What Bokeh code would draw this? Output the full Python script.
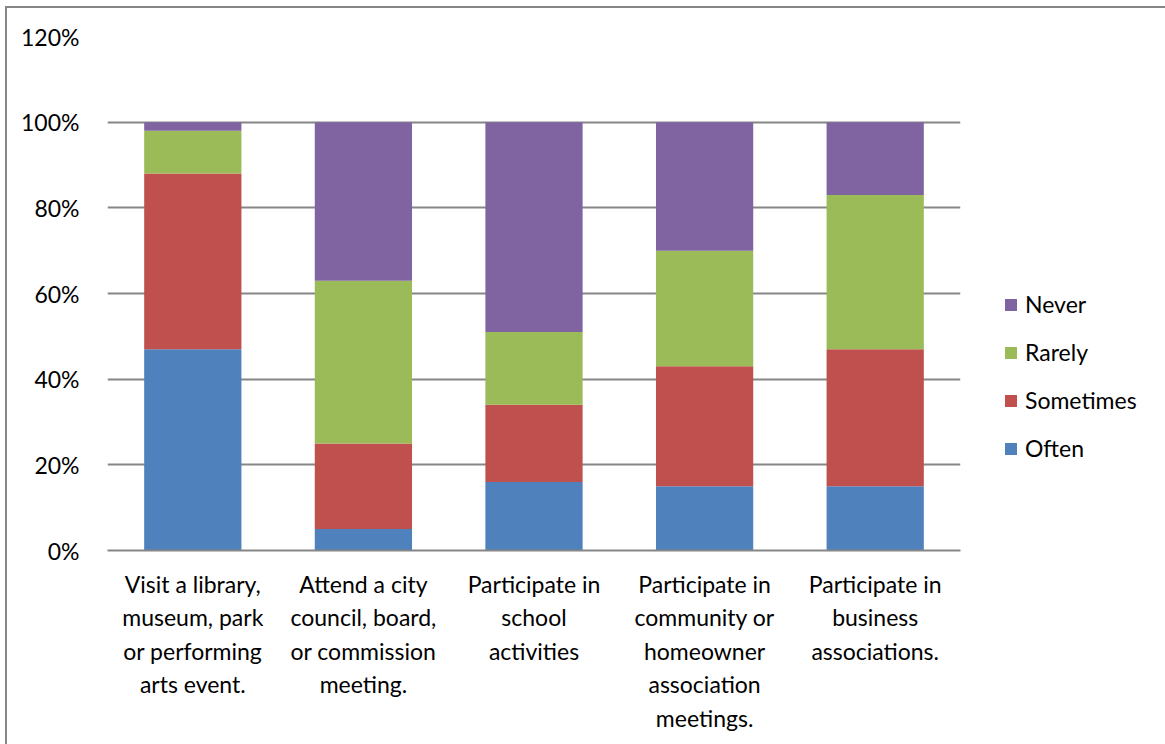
from bokeh.plotting import figure
from bokeh.models import (FactorRange, Range1d, FixedTicker, PrintfTickFormatter,
                          Legend, LegendItem)
from bokeh.embed import file_html
from bokeh.resources import INLINE

# Survey: how often respondents take part in each activity (percent of answers)
activities = [
    "Visit a library,\nmuseum, park\nor performing\narts event.",
    "Attend a city\ncouncil, board,\nor commission\nmeeting.",
    "Participate in\nschool\nactivities",
    "Participate in\ncommunity or\nhomeowner\nassociation\nmeetings.",
    "Participate in\nbusiness\nassociations.",
]
often = [47, 5, 16, 15, 15]
sometimes = [41, 20, 18, 28, 32]
rarely = [10, 38, 17, 27, 36]
never = [2, 37, 49, 30, 17]

y_ticks = [0, 20, 40, 60, 80, 100, 120]

series = ["Often", "Sometimes", "Rarely", "Never"]
colors = ["#4F81BD", "#C0504D", "#9BBB59", "#8064A2"]

FONT = "Lato"
FONT_SIZE = "23px"
GRID = "#868686"

p = figure(
    x_range=FactorRange(*activities, range_padding=0),
    y_range=Range1d(0, 120),
    frame_width=853, frame_height=514,
    margin=(6, 0, 0, 5),
    min_border_left=100, min_border_right=205,
    min_border_top=28, min_border_bottom=194,
    output_backend="svg", toolbar_location=None,
)
# thin frame along the top and left edges of the chart area
p.styles = {"border-top": f"2px solid {GRID}", "border-left": f"2px solid {GRID}"}
p.outline_line_color = None
p.background_fill_color = "white"
p.border_fill_color = "white"

data = dict(activity=activities, Often=often, Sometimes=sometimes,
            Rarely=rarely, Never=never)
renderers = p.vbar_stack(series, x="activity", width=0.57, color=colors,
                         line_color=None, source=data)

# y axis: percent ticks, no axis line or tick marks
p.yaxis.ticker = FixedTicker(ticks=y_ticks)
p.yaxis.formatter = PrintfTickFormatter(format="%d%%")
p.yaxis.axis_line_color = None
p.yaxis.major_tick_line_color = None
p.yaxis.minor_tick_line_color = None
p.yaxis.major_tick_out = 0
p.yaxis.major_label_standoff = 28
p.yaxis.major_label_text_font = FONT
p.yaxis.major_label_text_font_size = FONT_SIZE
p.yaxis.major_label_text_color = "#000000"

# x axis: multi-line activity names
p.xaxis.axis_line_color = GRID
p.xaxis.axis_line_width = 2
p.xaxis.major_tick_line_color = None
p.xaxis.major_tick_out = 0
p.xaxis.major_label_standoff = 19
p.xaxis.major_label_text_font = FONT
p.xaxis.major_label_text_font_size = FONT_SIZE
p.xaxis.major_label_text_color = "#000000"
p.xaxis.major_label_text_line_height = 1.2
p.xaxis.major_label_orientation = "horizontal"

p.xgrid.grid_line_color = None
p.ygrid.grid_line_color = GRID
p.ygrid.grid_line_width = 2

legend = Legend(
    items=[LegendItem(label=s, renderers=[r]) for s, r in
           reversed(list(zip(series, renderers)))],
    location=(43, 88),
    glyph_width=15, glyph_height=15,
    label_height=20, spacing=20,
    label_standoff=7,
    padding=0, margin=0,
    border_line_color=None, background_fill_alpha=0,
    label_text_font=FONT, label_text_font_size=FONT_SIZE,
    label_text_color="#000000",
)
p.add_layout(legend, "right")

open("out.html", "w").write(file_html(p, INLINE))
